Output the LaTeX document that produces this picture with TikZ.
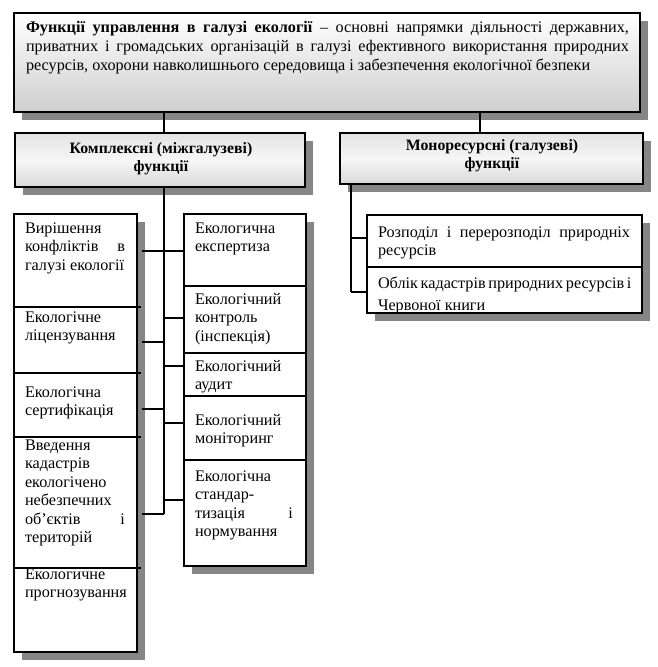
\documentclass[tikz,border=0pt]{standalone}
\usepackage{fontspec}
\setmainfont{Liberation Serif}
\usetikzlibrary{shadows}
\definecolor{shadowgray}{HTML}{868686}
\newcommand{\fstrut}{\rule{0pt}{12pt}}
\newcommand{\jl}[2]{\makebox[#1][s]{#2}}
\tikzset{
  every node/.style={inner sep=0pt, outer sep=0pt},
  boxshadow/.style={drop shadow={shadow xshift=8pt, shadow yshift=-8pt, opacity=1, fill=shadowgray}},
  cellbox/.style={draw=black, line width=1.4pt, fill=white, anchor=north west, boxshadow},
  headbox/.style={draw=black, line width=1.8pt, anchor=north west, boxshadow,
    top color=gray!22, bottom color=gray!30, middle color=gray!7},
  topbox/.style={draw=black, line width=2.2pt, anchor=north west, boxshadow,
    top color=white, bottom color=gray!38},
  celltext/.style={anchor=north west, align=left, font=\fontsize{16.2}{18.5}\selectfont},
  headtext/.style={anchor=north, align=center, font=\fontsize{15.8}{18.5}\selectfont\bfseries},
  conn/.style={draw=black, line width=1.6pt},
}
\begin{document}
\begin{tikzpicture}[x=1pt,y=-1pt]
\useasboundingbox (0,0) rectangle (657,667);
% ---- top box
\node[topbox, minimum width=626pt, minimum height=99pt] (top) at (14,13) {};
\node[celltext, anchor=north west, font=\fontsize{16.2}{19}\selectfont] (toptext) at (26,20) {\fstrut\jl{603pt}{\textbf{Функції управлення в галузі екології} – основні напрямки діяльності державних,}\\
\jl{603pt}{приватних і громадських організацій в галузі ефективного використання природних}\\
ресурсів, охорони навколишнього середовища і забезпечення екологічної безпеки};
% ---- headers
\node[headbox, minimum width=290pt, minimum height=54pt] (lmid) at (15,133) {};
\node[headtext] (lmidtext) at (161,141) {\fstrut Комплексні (міжгалузеві)\\функції};
\node[headbox, minimum width=303pt, minimum height=51pt] (rmid) at (340,133) {};
\node[headtext] (rmidtext) at (492,138) {\fstrut Моноресурсні (галузеві)\\функції};
% ---- left column
\node[cellbox, minimum width=123pt, minimum height=93pt] (L1) at (14,214) {};
\node[cellbox, minimum width=123pt, minimum height=66pt] (L2) at (14,307) {};
\node[cellbox, minimum width=123pt, minimum height=64pt] (L3) at (14,373) {};
\node[cellbox, minimum width=123pt, minimum height=131pt] (L4) at (14,437) {};
\node[cellbox, minimum width=123pt, minimum height=84pt] (L5) at (14,568) {};
\node[celltext] (L1t) at (25,221) {\fstrut Вирішення\\\jl{100pt}{конфліктів в}\\галузі екології};
\node[celltext] (L2t) at (25,310) {\fstrut Екологічне\\ліцензування};
\node[celltext] (L3t) at (25,385) {\fstrut Екологічна\\сертифікація};
\node[celltext] (L4t) at (25,438) {\fstrut Введення\\кадастрів\\екологічено\\небезпечних\\\jl{100pt}{об’єктів і}\\територій};
\node[celltext] (L5t) at (25,567) {\fstrut Екологичне\\прогнозування};
% divider stubs
\foreach \n in {L2,L3,L4,L5}{\draw[conn, line width=1.4pt] (\n.north east) -- ++(4,0);}
% ---- right column
\node[cellbox, minimum width=122pt, minimum height=72pt] (R1) at (184,214) {};
\node[cellbox, minimum width=122pt, minimum height=67pt] (R2) at (184,286) {};
\node[cellbox, minimum width=122pt, minimum height=43pt] (R3) at (184,353) {};
\node[cellbox, minimum width=122pt, minimum height=64pt] (R4) at (184,396) {};
\node[cellbox, minimum width=122pt, minimum height=106pt] (R5) at (184,460) {};
\node[celltext] (R1t) at (195,221) {\fstrut Екологична\\експертиза};
\node[celltext] (R2t) at (195,292) {\fstrut Екологічний\\контроль\\(інспекція)};
\node[celltext] (R3t) at (195,359) {\fstrut Екологічний\\аудит};
\node[celltext] (R4t) at (195,413) {\fstrut Екологічний\\моніторинг};
\node[celltext] (R5t) at (195,469) {\fstrut Екологічна\\стандар-\\\jl{98pt}{тизація і}\\нормування};
% ---- right lower boxes
\node[cellbox, minimum width=275pt, minimum height=52pt] (M1) at (367,215) {};
\node[cellbox, minimum width=275pt, minimum height=46pt] (M2) at (367,267) {};
\node[celltext] (M1t) at (378,225) {\fstrut\jl{252pt}{Розподіл і перерозподіл природніх}\\ресурсів};
\begin{scope}
\clip (M2.north west) rectangle (M2.south east);
\node[celltext] (M2t) at (378,276) {\fstrut\jl{252pt}{Облік кадастрів природних ресурсів і}\\[4pt]Червоної книги};
\end{scope}
\draw[line width=1.4pt] (M2.north west) rectangle (M2.south east);
% ---- connectors
\coordinate (xl) at (164,0);
\coordinate (xr) at (480,0);
\coordinate (xm) at (351,0);
\coordinate (trunkend) at (164,514);
\coordinate (mend) at (351,292);
\draw[conn] (top.south -| xl) -- (lmid.north -| xl);
\draw[conn] (top.south -| xr) -- (rmid.north -| xr);
\draw[conn] (lmid.south -| xl) -- (trunkend);
\draw[conn] ([xshift=5pt]L1.east |- 0,251) -- (R1.west |- 0,251);
\draw[conn] (xl |- 0,318) -- (R2.west |- 0,318);
\draw[conn] ([xshift=5pt]L2.east |- 0,342) -- (xl |- 0,342);
\draw[conn] (xl |- 0,366) -- (R3.west |- 0,366);
\draw[conn] ([xshift=5pt]L3.east |- 0,409) -- (xl |- 0,409);
\draw[conn] (xl |- 0,423) -- (R4.west |- 0,423);
\draw[conn] (xl |- 0,500) -- (R5.west |- 0,500);
\draw[conn] ([xshift=5pt]L4.east |- trunkend) -- (trunkend);
\draw[conn] (rmid.south -| xm) -- (mend);
\draw[conn] (xm |- 0,238) -- (M1.west |- 0,238);
\draw[conn] (mend) -- (M2.west |- mend);
\end{tikzpicture}
\end{document}
